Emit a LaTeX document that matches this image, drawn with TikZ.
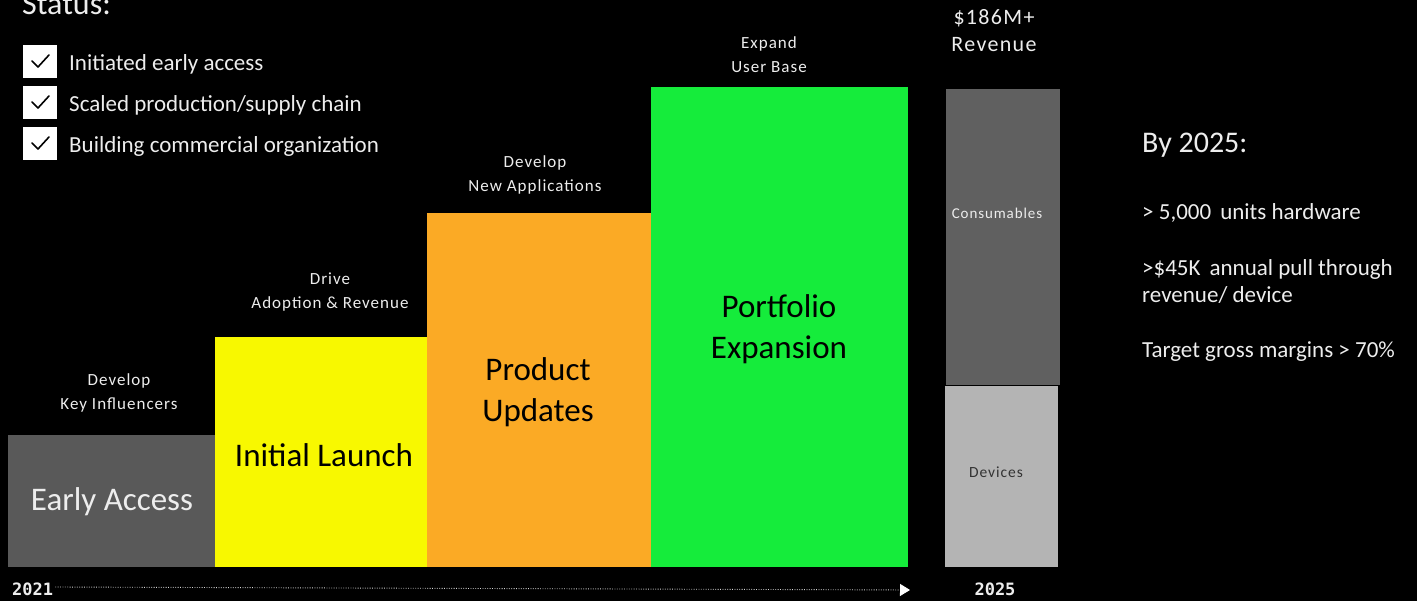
\documentclass[tikz,border=0pt]{standalone}
\usepackage{fontspec}
\setmainfont{Carlito}
\newfontfamily\spaced[LetterSpace=6]{Carlito}
\newfontfamily\monofont{DejaVu Sans Mono}
\usetikzlibrary{arrows.meta}
\definecolor{eagray}{HTML}{595959}
\definecolor{ilyellow}{HTML}{F8F800}
\definecolor{puorange}{HTML}{FBAA25}
\definecolor{pegreen}{HTML}{15EC3B}
\definecolor{consgray}{HTML}{606060}
\definecolor{devgray}{HTML}{B4B4B4}
\definecolor{txtwhite}{HTML}{EDEDED}
\begin{document}
\begin{tikzpicture}[x=1pt,y=-1pt,
  stage/.style={anchor=north west,inner sep=0pt,outer sep=0pt,draw=none,align=center},
  big/.style={font=\fontsize{33}{41.5}\selectfont},
  small/.style={font=\spaced\fontsize{17}{24}\selectfont,text=txtwhite,align=center},
  stat/.style={font=\fontsize{23}{26}\selectfont,text=txtwhite,anchor=west,inner sep=0pt},
  cbox/.style={fill=white,draw=none,minimum width=34pt,minimum height=33pt,inner sep=0pt,anchor=north west},
  right/.style={font=\fontsize{23}{27}\selectfont,text=txtwhite,anchor=west,inner sep=0pt,align=left},
  year/.style={font=\monofont\bfseries\fontsize{17}{18}\selectfont,text=txtwhite,inner sep=0pt}
]
\useasboundingbox (0,0) rectangle (1417,601);
\fill[black] (0,0) rectangle (1417,601);

% Status
\node[font=\fontsize{32}{36}\selectfont,text=txtwhite,anchor=base west,inner sep=0pt] (status) at (22,15) {Status:};
\foreach \i/\y/\t in {1/45/{Initiated early access},2/86/{Scaled production/supply chain},3/127/{Building commercial organization}}{
  \node[cbox] (cb\i) at (23,\y) {};
  \draw[black,line width=1.6pt,line cap=round,line join=round]
    ([xshift=9pt,yshift=-16pt]cb\i.north west) -- ([xshift=15pt,yshift=-22pt]cb\i.north west) -- ([xshift=26pt,yshift=-10pt]cb\i.north west);
  \node[stat] (st\i) at (69,\y+19) {\t};
}

% Stages
\node[stage,fill=eagray,minimum width=207pt,minimum height=132pt] (ea) at (8,435) {};
\node[stage,fill=ilyellow,minimum width=212pt,minimum height=230pt] (il) at (215,337) {};
\node[stage,fill=puorange,minimum width=224pt,minimum height=354pt] (pu) at (427,213) {};
\node[stage,fill=pegreen,minimum width=257pt,minimum height=480pt] (pe) at (651,87) {};

\node[big,text=txtwhite] (eat) at (112,502) {Early Access};
\node[big,text=black] (ilt) at (324,455) {Initial Launch};
\node[big,text=black,align=center] (put) at (538,392) {Product\\Updates};
\node[big,text=black,align=center] (pet) at (779,329) {Portfolio\\Expansion};

\node[small] (l1) at (119,393) {Develop\\Key Influencers};
\node[small] (l2) at (330,292) {Drive\\Adoption \& Revenue};
\node[small] (l3) at (535,175) {Develop\\New Applications};
\node[small] (l4) at (769,55) {Expand\\User Base};

% Revenue bar
\node[stage,fill=consgray,minimum width=114pt,minimum height=296pt] (cons) at (946,89) {};
\node[stage,fill=devgray,minimum width=113pt,minimum height=181pt] (dev) at (945,386) {};
\node[font=\spaced\fontsize{15}{16}\selectfont,text=txtwhite] (const) at (997,213) {Consumables};
\node[font=\spaced\fontsize{15.5}{16}\selectfont,text=black!80] (devt) at (996,472) {Devices};
\node[font=\spaced\fontsize{22}{27}\selectfont,text=txtwhite,align=center] (rev) at (994,31) {\$186M+\\Revenue};

% Right text
\node[font=\fontsize{30}{30}\selectfont,text=txtwhite,anchor=west,inner sep=0pt] (by) at (1142,145) {By 2025:};
\node[right] (r1) at (1142,213) {> 5,000\, units hardware};
\node[right] (r2) at (1142,282) {>\$45K\, annual pull through\\revenue/ device};
\node[right] (r3) at (1142,352) {Target gross margins > 70\%};

% Timeline
\node[year,anchor=west] (y21) at (12,589) {2021};
\coordinate (tip) at (910,590);
\draw[white!85!black,line width=0.9pt,dash pattern=on 0.8pt off 1.6pt,-{Triangle[width=12pt,length=10pt,fill=white,color=white]}] (y21.east) ++(2pt,2pt) -- (tip);
\node[year] (y25) at (995,589) {2025};
\end{tikzpicture}
\end{document}
